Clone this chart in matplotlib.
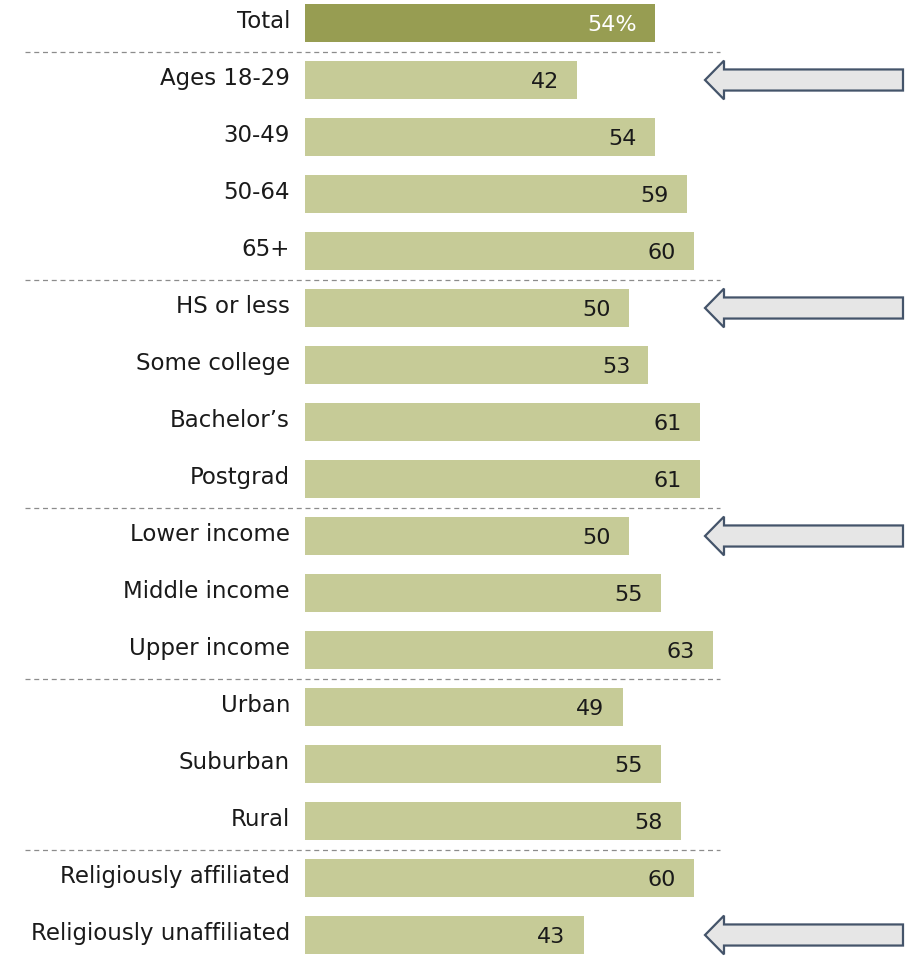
import matplotlib
matplotlib.use("Agg")
import matplotlib.pyplot as plt
from matplotlib.patches import FancyArrow

# data
labels = ["Total", "Ages 18-29", "30-49", "50-64", "65+",
          "HS or less", "Some college", "Bachelor\u2019s", "Postgrad",
          "Lower income", "Middle income", "Upper income",
          "Urban", "Suburban", "Rural",
          "Religiously affiliated", "Religiously unaffiliated"]
values = [54, 42, 54, 59, 60, 50, 53, 61, 61, 50, 55, 63, 49, 55, 58, 60, 43]
separators_after = [0, 4, 8, 11, 14]   # dashed line below these rows
arrow_rows = [1, 5, 9, 16]

W, H = 905, 957
fig = plt.figure(figsize=(W / 100, H / 100), dpi=100)
px_per_unit = 6.48
left_px = 305
ax = fig.add_axes([left_px / W, 0, 1 - left_px / W, 1])
ax.set_xlim(0, (W - left_px) / px_per_unit)
row_px = 57
top_px = 23
ax.set_ylim((H - top_px) / row_px, -top_px / row_px)
ax.axis("off")

font = "DejaVu Sans"
for i, (lab, v) in enumerate(zip(labels, values)):
    col = "#979d52" if i == 0 else "#c6cb97"
    ax.barh(i, v, height=0.67, color=col, edgecolor="none")
    txt = f"{v}%" if i == 0 else f"{v}"
    ax.text(v - 2.8, i + 0.04, txt, ha="right", va="center", fontsize=16,
            color="white" if i == 0 else "#1a1a1a", family=font)
    ax.text(-2.3, i - 0.02, lab, ha="right", va="center", fontsize=16.5,
            color="#1a1a1a", family=font, clip_on=False)

x0 = (25 - left_px) / px_per_unit
x1 = (720 - left_px) / px_per_unit
for r in separators_after:
    ax.plot([x0, x1], [r + 0.5, r + 0.5], color="#8c8c8c", lw=0.9,
            dashes=(4, 3), clip_on=False)

tail = (903 - left_px) / px_per_unit
tip = (705 - left_px) / px_per_unit
for r in arrow_rows:
    ax.add_patch(FancyArrow(tail, r, tip - tail, 0, width=0.37, head_width=0.68,
                            head_length=19 / px_per_unit, length_includes_head=True,
                            facecolor="#e6e6e6", edgecolor="#44546a", lw=1.6))

fig.savefig("out.png", dpi=100)
